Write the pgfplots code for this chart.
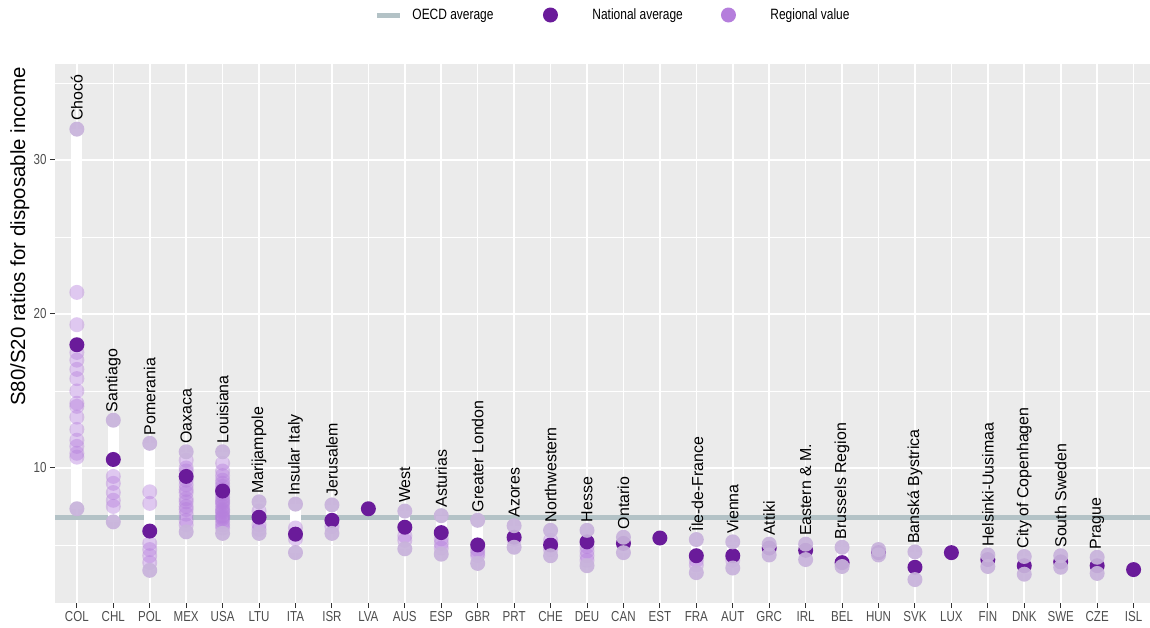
\documentclass[border=0pt]{standalone}
\usepackage{fontspec}
\setmainfont{Liberation Sans}
\newfontfamily\narrowfont{Liberation Sans}[FakeStretch=0.8]
\usepackage{pgfplots}
\pgfplotsset{compat=1.18}
\definecolor{panel}{HTML}{EBEBEB}
\definecolor{oecdc}{HTML}{B3C2C6}
\definecolor{natcol}{HTML}{6A1B9A}
\definecolor{midcol}{HTML}{B57EDC}
\definecolor{mmcol}{HTML}{C8B3DB}
\definecolor{tickcol}{HTML}{333333}
\definecolor{labcol}{HTML}{4D4D4D}
\begin{document}
\begin{tikzpicture}
\begin{axis}[
  at={(0,0)}, anchor=south west,
  scale only axis, width=1095bp, height=539bp,
  xmin=-0.6, xmax=29.45, ymin=1.23, ymax=36.23,
  axis background/.style={fill=panel},
  axis line style={draw=none},
  xtick={0,...,29},
  xticklabels={COL,CHL,POL,MEX,USA,LTU,ITA,ISR,LVA,AUS,ESP,GBR,PRT,CHE,DEU,CAN,EST,FRA,AUT,GRC,IRL,BEL,HUN,SVK,LUX,FIN,DNK,SWE,CZE,ISL},
  ytick={10,20,30}, minor ytick={5,15,25,35},
  xmajorgrids, ymajorgrids, yminorgrids,
  major grid style={white, line width=1.6bp},
  minor grid style={white, line width=0.8bp},
  tick align=outside, major tick length=5bp, minor tick length=0pt,
  tick style={draw=tickcol, line width=1bp},
  xtick pos=left, ytick pos=left,
  ticklabel style={font=\narrowfont\fontsize{14.5}{16}\selectfont, text=labcol},
  /pgf/number format/assume math mode=true,
  ylabel={S80/S20 ratios for disposable income},
  ylabel style={font=\fontsize{20.5}{23}\selectfont, at={(axis description cs:-0.032,1)}, anchor=east},
  legend columns=3,
  legend cell align=left,
  legend style={at={(0.2922,1.0909)}, anchor=west, draw=none, fill=none, inner sep=0pt, outer sep=0pt,
    /tikz/every even column/.style={column sep=0pt},
    nodes={inner sep=0pt, font=\narrowfont\fontsize{15}{17}\selectfont}},
  every axis plot/.append style={mark options={draw opacity=0}},
]
\addlegendimage{legend image code/.code={\path[draw=oecdc, line width=5bp] (0bp,0bp) -- (23bp,0bp); \path[draw=none, fill=none] (0bp,0bp) -- (35bp,0bp);}}
\addlegendentry{\makebox[130.5bp][l]{OECD average}}
\addlegendimage{legend image code/.code={\path[draw=none, fill=none] (-7.5bp,0bp) -- (42bp,0bp); \path[draw=none, fill=natcol] (0bp,0bp) circle (7.5bp);}}
\addlegendentry{\makebox[128.5bp][l]{National average}}
\addlegendimage{legend image code/.code={\path[draw=none, fill=none] (-7.5bp,0bp) -- (42bp,0bp); \path[draw=none, fill=midcol] (0bp,0bp) circle (7.5bp);}}
\addlegendentry{Regional value}

% OECD average
\addplot[oecdc, line width=5bp, forget plot] coordinates {(-0.6,6.8) (29.45,6.8)};

% regional ranges
\addplot[white, line width=11bp, unbounded coords=jump, forget plot] table {
x y
0 7.35
0 32.0
0 nan
1 6.5
1 13.1
1 nan
2 3.35
2 11.6
2 nan
3 5.85
3 11.05
3 nan
4 5.75
4 11.05
4 nan
5 5.75
5 7.8
5 nan
6 4.5
6 7.65
6 nan
7 5.75
7 7.6
7 nan
9 4.75
9 7.2
9 nan
10 4.4
10 6.9
10 nan
11 3.8
11 6.6
11 nan
12 4.85
12 6.25
12 nan
13 4.3
13 5.95
13 nan
14 3.65
14 5.95
14 nan
15 4.5
15 5.5
15 nan
17 3.2
17 5.35
17 nan
18 3.5
18 5.2
18 nan
19 4.35
19 5.05
19 nan
20 4.05
20 5.05
20 nan
21 3.6
21 4.85
21 nan
22 4.35
22 4.7
22 nan
23 2.75
23 4.55
23 nan
25 3.6
25 4.35
25 nan
26 3.1
26 4.25
26 nan
27 3.55
27 4.3
27 nan
28 3.15
28 4.2
};

% intermediate regional values
\addplot[only marks, mark=*, mark size=7.5bp, color=midcol, mark options={draw opacity=0, fill=midcol, fill opacity=0.42}, forget plot] table {
x y
0 21.4
0 19.3
0 17.5
0 17.0
0 16.4
0 15.8
0 15.0
0 14.2
0 14.0
0 13.3
0 12.5
0 11.8
0 11.4
0 10.95
0 10.7
1 9.45
1 9.0
1 8.4
1 7.9
1 7.5
2 8.45
2 7.7
2 5.1
2 4.7
2 4.3
2 3.85
3 10.5
3 10.0
3 9.8
3 9.2
3 8.9
3 8.6
3 8.4
3 8.0
3 7.8
3 7.5
3 7.3
3 7.0
3 6.6
3 6.3
4 10.3
4 9.8
4 9.5
4 9.2
4 9.0
4 8.8
4 8.6
4 8.3
4 8.1
4 7.9
4 7.8
4 7.7
4 7.5
4 7.3
4 7.2
4 7.1
4 6.9
4 6.8
4 6.7
4 6.5
4 6.3
4 6.1
5 7.2
5 6.3
5 6.0
6 6.1
6 5.4
7 6.2
9 5.6
9 5.3
10 5.4
10 5.1
10 4.8
11 4.7
11 4.5
11 4.3
12 5.35
13 5.3
13 4.7
14 4.9
14 4.6
14 4.3
14 4.0
17 4.0
17 3.7
18 4.0
};

% national averages
\addplot[only marks, mark=*, mark size=7.5bp, color=natcol, mark options={draw opacity=0, fill=natcol}, forget plot] table {
x y
0 18.0
1 10.55
2 5.9
3 9.45
4 8.5
5 6.8
6 5.7
7 6.6
8 7.35
9 6.15
10 5.8
11 5.0
12 5.5
13 5.0
14 5.2
15 5.1
16 5.45
17 4.3
18 4.3
19 4.8
20 4.65
21 3.85
22 4.5
23 3.55
24 4.5
25 4.05
26 3.65
27 3.9
28 3.65
29 3.4
};

% minimum regional values
\addplot[only marks, mark=*, mark size=7.5bp, color=mmcol, mark options={draw opacity=0, fill=mmcol, fill opacity=0.93}, forget plot] table {
x y
0 7.35
1 6.5
2 3.35
3 5.85
4 5.75
5 5.75
6 4.5
7 5.75
9 4.75
10 4.4
11 3.8
12 4.85
13 4.3
14 3.65
15 4.5
17 3.2
18 3.5
19 4.35
20 4.05
21 3.6
22 4.35
22 4.7
23 2.75
25 3.6
26 3.1
27 3.55
28 3.15
};

% maximum regional values with labels
\addplot[only marks, mark=*, mark size=7.5bp, color=mmcol, mark options={draw opacity=0, fill=mmcol, fill opacity=0.93}, forget plot,
  nodes near coords, point meta=explicit symbolic,
  nodes near coords style={yshift=8bp, rotate=90, anchor=west, inner sep=0pt, text=black, text opacity=1, font=\fontsize{16}{18}\selectfont}]
coordinates {
(0,32.0) [Chocó]
(1,13.1) [Santiago]
(2,11.6) [Pomerania]
(3,11.05) [Oaxaca]
(4,11.05) [Louisiana]
(5,7.8) [Marijampole]
(6,7.65) [Insular Italy]
(7,7.6) [Jerusalem]
(9,7.2) [West]
(10,6.9) [Asturias]
(11,6.6) [Greater London]
(12,6.25) [Azores]
(13,5.95) [Northwestern]
(14,5.95) [Hesse]
(15,5.5) [Ontario]
(17,5.35) [Île-de-France]
(18,5.2) [Vienna]
(19,5.05) [Attiki]
(20,5.05) [Eastern \& M.]
(21,4.85) [Brussels Region]
(23,4.55) [Banská Bystrica]
(25,4.35) [Helsinki-Uusimaa]
(26,4.25) [City of Copenhagen]
(27,4.3) [South Sweden]
(28,4.2) [Prague]
};
\end{axis}
\pgfresetboundingbox
\useasboundingbox (-55bp,-25bp) rectangle (1095bp,603bp);
\end{tikzpicture}
\end{document}
